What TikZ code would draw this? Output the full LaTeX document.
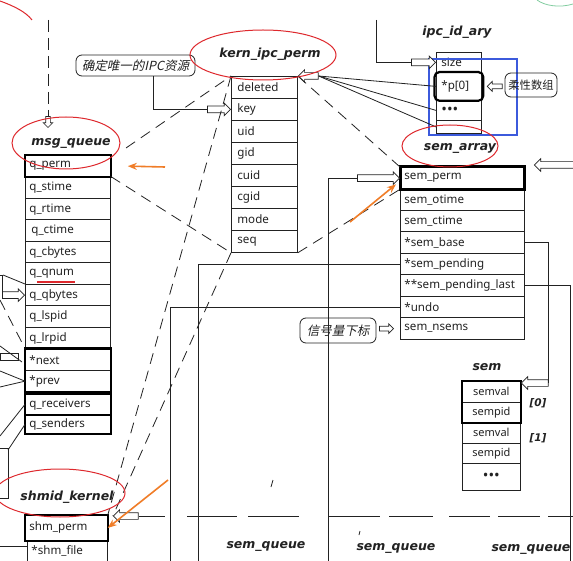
\documentclass[tikz,border=0pt]{standalone}
\usepackage{fontspec}
\setmainfont{Noto Sans}
\newfontfamily\tfont{DejaVu Sans}
\newfontfamily\cjk{Noto Sans CJK SC}
\newfontfamily\cjkit{Noto Sans CJK SC}[FakeSlant=0.22]
\usetikzlibrary{shapes.arrows,arrows.meta}
\definecolor{ink}{HTML}{222222}
\definecolor{redpen}{RGB}{222,40,45}
\definecolor{orangepen}{RGB}{240,125,40}
\definecolor{bluepen}{RGB}{60,90,220}
\definecolor{greenpen}{RGB}{130,205,160}
\begin{document}
\begin{tikzpicture}[x=1pt,y=-1pt,
  every node/.style={text=ink},
  rowbase/.style={draw=ink, line width=0.8pt, anchor=north west, inner ysep=0pt, align=left,
    font=\fontsize{11.6}{12}\selectfont},
  mq/.style={rowbase, minimum height=21.5pt, text width=77pt, inner xsep=4pt},
  kp/.style={rowbase, minimum height=22pt, text width=54pt, inner xsep=6pt},
  ip/.style={rowbase, text width=35pt, inner xsep=5pt},
  sa/.style={rowbase, minimum height=21.5pt, text width=116pt, inner xsep=4pt},
  sm/.style={rowbase, minimum height=20.5pt, text width=50pt, inner xsep=4pt, align=center,
    font=\fontsize{11}{12}\selectfont},
  sh/.style={rowbase, text width=74pt, inner xsep=4pt},
  dots/.style={font=\fontsize{15}{15}\selectfont},
  thickbox/.style={draw=black, line width=2.3pt},
  tit/.style={font=\tfont\bfseries\itshape\fontsize{12.5}{14}\selectfont, inner sep=0pt},
  callout/.style={draw=ink, line width=0.8pt, rounded corners=6pt, inner sep=0pt,
    font=\fontsize{12.5}{13}\selectfont},
  harrow/.style={single arrow, draw=ink, fill=white, line width=0.7pt, minimum height=#1,
    inner sep=3pt, single arrow head extend=3pt, anchor=tip},
  conn/.style={draw=ink, line width=0.8pt},
  dashln/.style={draw=ink, line width=0.8pt, dash pattern=on 11pt off 7pt},
  redloop/.style={draw=redpen, line width=1pt},
  orangearrow/.style={draw=orangepen, line width=1.6pt, -{Stealth[length=9pt,width=7pt]}}
]
\fill[white] (0,0) rectangle (573,561);
\useasboundingbox (0,0) rectangle (573,561);

% ---------- msg_queue ----------
\node[tit] (tmq) at (71,143) {msg\_queue};
\foreach \t [count=\i from 0] in {q\_perm, q\_stime, q\_rtime, {\hspace{2pt}q\_ctime}, q\_cbytes,
  q\_qnum, q\_qbytes, q\_lspid, q\_lrpid, *next, *prev}
  \node[mq] (mq\i) at (25,155+21.5*\i) {\t};
\node[mq, minimum height=20pt] (qrec) at (25,394) {q\_receivers};
\node[mq, minimum height=18pt] (qsend) at (25,415) {q\_senders};
\draw[thickbox] (mq0.north west) rectangle (mq0.south east);
\draw[thickbox] (mq9.north west) rectangle (mq10.south east);
\draw[thickbox] (qrec.north west) rectangle (qrec.south east);
\draw[thickbox] (qsend.north west) rectangle (qsend.south east);
\draw[draw=redpen, line width=1.2pt] (37,282) -- (75,282);

% ---------- kern_ipc_perm ----------
\node[tit] (tkp) at (270,54) {kern\_ipc\_perm};
\foreach \t [count=\i from 0] in {deleted,key,uid,gid,cuid,cgid,mode,seq}
  \node[kp] (kp\i) at (231,76+22*\i) {\t};

% ---------- ipc_id_ary ----------
\node[tit] (tip) at (457,32) {ipc\_id\_ary};
\node[ip, minimum height=20pt] (ipsize) at (436,52) {size};
\node[ip, minimum height=28pt] (ipp) at (436,72) {*p[0]};
\node[ip, minimum height=20pt, dots] (ipdots) at (436,100) {•••};
\node[ip, minimum height=13pt] (iplast) at (436,120) {};
\draw[draw=black, line width=2.2pt, rounded corners=5pt]
  ([xshift=-1.5pt]ipp.north west) rectangle ([xshift=1.5pt]ipp.south east);
\draw[draw=bluepen, line width=1.3pt] (429,59) rectangle (517,135);
\node[callout, minimum width=52pt, minimum height=24pt, font=\fontsize{11.3}{12}\selectfont] (c2)
  at (531,85) {\cjk 柔性数组};
\node[harrow=15pt, inner sep=2pt, single arrow head extend=2.5pt, rotate=180] (a4)
  at ([xshift=5pt]ipp.east) {};

% ---------- sem_array ----------
\node[tit] (tsa) at (460,148) {sem\_array};
\foreach \t [count=\i from 0] in {sem\_perm, sem\_otime, sem\_ctime, *sem\_base, *sem\_pending,
  {\mbox{**sem\_pending\_last}}, *undo, sem\_nsems}
  \node[sa] (sa\i) at (400,167+21.5*\i) {\t};
\draw[draw=black, line width=3pt] (sa0.north west) rectangle (sa0.south east);
\node[callout, minimum width=76pt, minimum height=25pt] (c3) at (338,330.5) {\cjkit 信号量下标};
\node[harrow=14pt, inner sep=2pt, single arrow head extend=2.5pt] (a7) at ([xshift=-6pt]sa7.west) {};

% ---------- sem ----------
\node[tit] (tsm) at (487,367) {sem};
\foreach \t [count=\i from 0] in {semval, sempid, semval, sempid}
  \node[sm] (sm\i) at (462,381+20.5*\i) {\t};
\node[sm, minimum height=27pt, dots] (sm4) at (462,463) {•••};
\draw[thickbox] (sm0.north west) rectangle (sm1.south east);
\node[font=\tfont\bfseries\itshape\fontsize{10.5}{12}\selectfont] (l0) at (538,403) {[0]};
\node[font=\tfont\bfseries\itshape\fontsize{10.5}{12}\selectfont] (l1) at (538,438) {[1]};

% ---------- shmid_kernel ----------
\node[tit] (tsk) at (67,497) {shmid\_kernel};
\node[sh, minimum height=25pt] (shperm) at (25,515) {shm\_perm};
\node[sh, minimum height=22pt, text width=72pt] (shfile) at (27,540) {*shm\_file};
\draw[draw=black, line width=2.4pt] (shperm.north west) rectangle (shperm.south east);

% ---------- sem_queue labels ----------
\node[tit] (q1) at (266,546) {sem\_queue};
\node[tit] (q2) at (396,548) {sem\_queue};
\node[tit] (q3) at (531,549) {sem\_queue};

% ---------- callout 1 ----------
\node[callout, minimum width=119pt, minimum height=21pt] (c1) at (135.5,65.5) {\cjkit 确定唯一的IPC资源};

% ---------- hollow arrows ----------
\node[harrow=23pt] (a1) at (kp1.west) {};
\node[harrow=20pt, rotate=180] (a2) at (kp0.north east) {};
\node[harrow=24pt] (a3) at (ipsize.west) {};
\node[harrow=42pt] (a5) at (sa0.west) {};
\node[harrow=40pt, rotate=180] (a6) at ([xshift=9pt,yshift=2pt]sa0.north east) {};
\node[harrow=27pt, rotate=180] (a8) at ([yshift=-2pt]sm0.north east) {};
\node[harrow=11pt, inner sep=2pt, single arrow head extend=2.5pt, rotate=270] (a9) at (48,128) {};
\node[harrow=22pt] (a10) at (mq6.west) {};
\node[harrow=25pt, rotate=180] (a11) at ([xshift=5pt,yshift=-1pt]shperm.north east) {};

% ---------- free ends ----------
\coordinate (top9) at (48,20);
\coordinate (top3) at (376,20);
\coordinate (b5) at (328,561);
\coordinate (bund) at (170,561);
\coordinate (bpen) at (198,561);
\coordinate (blast) at (570,561);

% ---------- solid connectors ----------
\draw[conn] ([xshift=17.5pt]c1.south) |- (a1.tail);
\draw[conn] (a2.tail) -- (ipp.west);
\draw[conn] (a2.tail) -- (ipdots.west);
\draw[conn] (a2.tail) -- (iplast.west);
\draw[conn] (top3) |- (a3.tail);
\draw[conn] (b5) |- (a5.tail);
\draw[conn] (sa3.east) -| (a8.tail);
\draw[conn] (sa4.west) -| (bpen);
\draw[conn] (sa6.west) -| (bund);
\draw[conn] (sa5.east) -| (blast);

% bottom dashed rule
\draw[conn] (a11.tail) -- (165,516) (187,516) -- (237,516) (248,516) -- (299,516)
  (328,516) -- (380,516) (389,516) -- (433,516) (449,516) -- (490,516)
  (498,516) -- (540,516) (548,516) -- (573,516);

% ---------- dashed connectors ----------
\draw[dashln, dash pattern=on 12pt off 6pt] (top9) -- (a9.tail);
\draw[dashln] (126,148) -- (kp0.north west);
\draw[dashln] (mq1.north east) -- (kp7.south west);
\draw[dashln] (kp0.north west) -- (shperm.north east);
\draw[dashln] (kp7.south west) -- (a11.tip);
\draw[dashln] (kp0.north east) -- (sa0.north west);
\draw[dashln] (kp7.south east) -- (sa0.south west);

% ---------- left edge fragments ----------
\draw[conn] (0,275) -| (a10.tail);
\draw[conn] (3,275) -- (25,284);
\draw[dashln] (0,300) -- (mq9.north west);
\draw[conn] (0,353) rectangle (18,360);
\draw[conn] (0,346) -- (22,362);
\draw[conn] (0,371) -- (mq10.west);
\draw[conn] (0,387) -- (mq10.west);
\draw[conn] (0,436) -- (qrec.west);
\draw[conn] (8,450) -- (qsend.west);
\draw[conn] (0,448) -- (8,448) -- (8,498) -- (0,498);
\draw[conn] (0,546) -- (27,546);
\draw[conn] (271,487) -- (273,480);
\draw[conn] (360,531) -- (359,535);

% ---------- pen marks ----------
\draw[redloop] (66,143) ellipse [x radius=54pt, y radius=26pt];
\draw[redloop] (263,55) ellipse [x radius=73pt, y radius=25pt];
\draw[redloop] (450,146) ellipse [x radius=48pt, y radius=21pt];
\draw[redloop] (60,493) ellipse [x radius=65pt, y radius=24pt];
\draw[redloop] (0,1) .. controls (14,6) and (26,12) .. (32,20);
\draw[draw=greenpen, line width=0.8pt] (537,0) .. controls (545,6) and (560,8) .. (573,4);
\draw[orangearrow] (165,167) -- ([xshift=17pt]mq0.east);
\draw[orangearrow] (350,222) -- ([xshift=-4pt,yshift=5pt]sa0.south west);
\draw[orangearrow] (168,480) -- (shperm.east);
\end{tikzpicture}
\end{document}
